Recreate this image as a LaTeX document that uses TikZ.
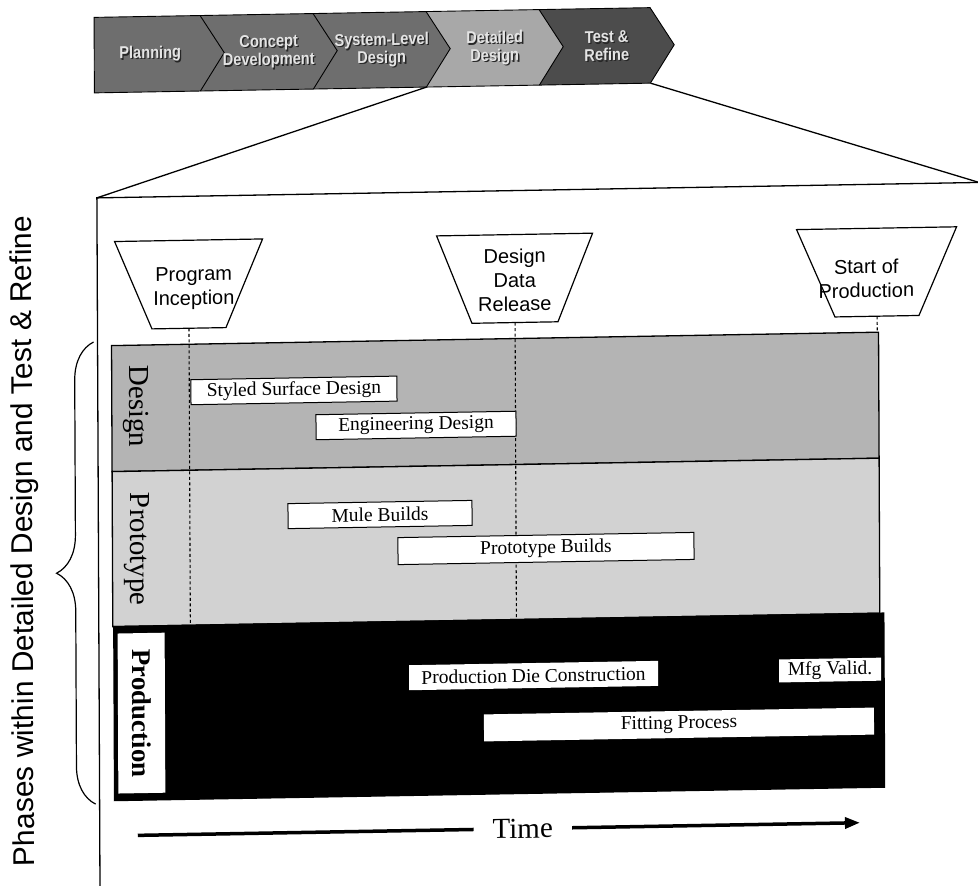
\documentclass[tikz,border=0pt]{standalone}
\usepackage{fontspec}
\setmainfont{Liberation Serif}
\newfontfamily\helv{Liberation Sans}
\newfontfamily\helvN[FakeStretch=0.86]{Liberation Sans}
\usetikzlibrary{arrows.meta,decorations.pathreplacing}
\definecolor{chevmid}{HTML}{6E6E6E}
\definecolor{chevlight}{HTML}{A8A8A8}
\definecolor{chevdark}{HTML}{4C4C4C}
\definecolor{chevtext}{HTML}{E4E4E4}
\definecolor{designgray}{HTML}{B4B4B4}
\definecolor{protogray}{HTML}{D2D2D2}
\tikzset{
  frame/.style={draw=black, line width=1.3pt},
  chev/.style={draw=black, line width=0.9pt},
  chevtxt/.style={font=\helvN\bfseries\fontsize{17}{18}\selectfont, align=center, text=chevtext, inner sep=0pt},
  chevshadow/.style={font=\helvN\bfseries\fontsize{17}{18}\selectfont, align=center, text=black!85, inner sep=0pt},
  mile/.style={draw=black, line width=1.2pt, fill=white},
  miletxt/.style={font=\helv\fontsize{20}{24}\selectfont, align=center, inner sep=0pt},
  band/.style={draw=black, line width=1.3pt},
  task/.style={draw=black, line width=1pt, fill=white, inner sep=0pt, font=\fontsize{19.5}{22}\selectfont, text=black},
  ptask/.style={draw=none, fill=white, inner sep=0pt, font=\fontsize{19.5}{22}\selectfont, text=black},
  bandlbl/.style={rotate=-90, font=\fontsize{29}{32}\selectfont, inner sep=0pt},
  msdash/.style={draw=black, line width=1.1pt, dash pattern=on 3pt off 2.5pt},
  timeline/.style={draw=black, line width=3.5pt}
}
\begin{document}
\begin{tikzpicture}[x=1pt,y=-1pt]
\useasboundingbox (0,0) rectangle (978,886);
\clip (0,0) rectangle (978,886);
\begin{scope}[cm={1,0.0175,-0.0045,1,(-1.99pt,-8.56pt)}, transform shape]

% ---------- chevron bar ----------
\fill[chevmid] (96,10.5) -- (202,10.5) -- (226,48) -- (202,86) -- (96,86) -- cycle;
\fill[chevmid] (202,10.5) -- (315,10.5) -- (339,48) -- (315,86) -- (202,86) -- (226,48) -- cycle;
\fill[chevmid] (315,10.5) -- (428,10.5) -- (452,48) -- (428,86) -- (315,86) -- (339,48) -- cycle;
\fill[chevlight] (428,10.5) -- (541,10.5) -- (565,48) -- (541,86) -- (428,86) -- (452,48) -- cycle;
\fill[chevdark] (541,10.5) -- (652,10.5) -- (676,48) -- (652,86) -- (541,86) -- (565,48) -- cycle;
\draw[chev] (96,10.5) -- (652,10.5) -- (676,48) -- (652,86) -- (96,86) -- cycle;
\draw[chev] (202,10.5) -- (226,48) -- (202,86);
\draw[chev] (315,10.5) -- (339,48) -- (315,86);
\draw[chev] (428,10.5) -- (452,48) -- (428,86);
\draw[chev] (541,10.5) -- (565,48) -- (541,86);

\node[chevshadow] (planS) at (153.3,49.3) {Planning};
\node[chevtxt] (planT) at (152,48) {Planning};
\node[chevshadow] (concS) at (271.8,49.3) {Concept\\Development};
\node[chevtxt] (concT) at (270.5,48) {Concept\\Development};
\node[chevshadow] (sysS) at (384.8,49.3) {System-Level\\Design};
\node[chevtxt] (sysT) at (383.5,48) {System-Level\\Design};
\node[chevshadow] (detS) at (497.8,49.3) {Detailed\\Design};
\node[chevtxt] (detT) at (496.5,48) {Detailed\\Design};
\node[chevshadow] (testS) at (609.8,49.3) {Test \&\\Refine};
\node[chevtxt] (testT) at (608.5,48) {Test \&\\Refine};

% ---------- zoom frame ----------
\coordinate (ddBL) at (428,86);
\coordinate (trBR) at (652,86);
\coordinate (boxTL) at (98,191);
\coordinate (boxTR) at (980,191);
\coordinate (boxTE) at (995,191);
\coordinate (boxBL) at (98,900);
\draw[frame] (ddBL) -- (boxTL);
\draw[frame] (trBR) -- (boxTR);
\draw[frame] (boxBL) -- (boxTL) -- (boxTE);

% ---------- bands ----------
\draw[band, fill=designgray] (112,339) rectangle (879,465);
\draw[band, fill=protogray] (112,465) rectangle (879,620);
\draw[band, fill=black] (113,620) rectangle (883,794);

% ---------- milestones ----------
\draw[mile] (115.5,235) -- (263.5,235) -- (226.5,323) -- (152.5,323) -- cycle;
\draw[mile] (437.5,235) -- (593.5,235) -- (558.5,323) -- (472.5,323) -- cycle;
\draw[mile] (797.5,235) -- (957.5,235) -- (919.5,323) -- (835.5,323) -- cycle;
\node[miletxt] (piT) at (194.5,283) {Program\\Inception};
\node[miletxt] (ddrT) at (515.5,280.5) {Design\\Data\\Release};
\node[miletxt] (sopT) at (867,285) {Start of\\Production};

\coordinate (piB) at (189.5,323);
\coordinate (piE) at (189.5,620);
\coordinate (ddrB) at (515.5,323);
\coordinate (ddrE) at (515.5,620);
\coordinate (sopB) at (877.5,323);
\coordinate (sopE) at (877.5,339);
\draw[msdash] (piB) -- (piE);
\draw[msdash] (ddrB) -- (ddrE);
\draw[msdash] (sopB) -- (sopE);

% ---------- band labels ----------
\node[bandlbl] (desL) at (136.2,400) {Design};
\node[bandlbl] (proL) at (136.2,543) {Prototype};
\node[fill=white, inner sep=0pt, minimum width=160pt, minimum height=47pt, rotate=-90,
      font=\bfseries\fontsize{27}{30}\selectfont] (prodL) at (140.3,707) {Production};

% ---------- tasks ----------
\node[task, minimum width=206pt, minimum height=25pt] (ssd) at (294.2,387) {Styled Surface Design};
\node[task, minimum width=200pt, minimum height=25pt] (eng) at (416.1,424.2) {Engineering Design};
\node[task, minimum width=184pt, minimum height=25pt] (mule) at (379.7,512.6) {Mule Builds};
\node[task, minimum width=296pt, minimum height=27pt] (proto) at (545.5,549.5) {Prototype Builds};
\node[ptask, minimum width=249pt, minimum height=25pt] (pdc) at (532.5,676.3) {Production Die Construction};
\node[ptask, minimum width=102pt, minimum height=23pt] (mfg) at (829,676) {Mfg Valid.};
\node[ptask, minimum width=390pt, minimum height=27pt] (fit) at (677.7,727.8) {Fitting Process};

% ---------- time arrow ----------
\coordinate (tS) at (136,829);
\coordinate (tE) at (858,829);
\node[font=\fontsize{29}{32}\selectfont, inner xsep=19pt, inner ysep=0pt] (time) at (521,829) {Time};
\draw[timeline] (tS) -- (time.west);
\draw[timeline, -{Triangle[length=15pt,width=11pt]}] (time.east) -- (tE);

% ---------- brace and side title ----------
\coordinate (brB) at (94,797);
\coordinate (brT) at (94,335);
\draw[line width=1.2pt, decorate, decoration={brace, amplitude=38pt}] (brB) -- (brT);
\node[rotate=90, inner sep=0pt, font=\helv\fontsize{30}{34}\selectfont] (phases) at (24.6,533)
  {Phases within Detailed Design and Test \& Refine};

\end{scope}
\end{tikzpicture}
\end{document}
